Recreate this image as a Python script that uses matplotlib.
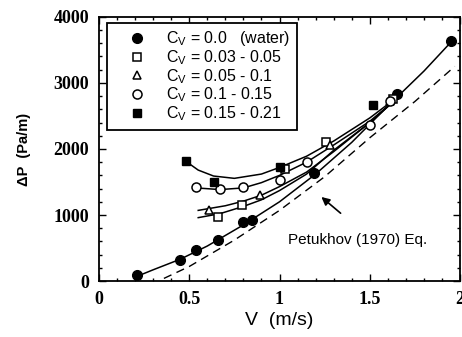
import matplotlib
matplotlib.use("Agg")
import matplotlib.pyplot as plt
from matplotlib.lines import Line2D
from matplotlib.ticker import MultipleLocator

plt.rcParams['font.family'] = ['Liberation Sans', 'DejaVu Sans']
plt.rcParams['mathtext.fontset'] = 'custom'
plt.rcParams['mathtext.rm'] = 'Liberation Sans'
plt.rcParams['mathtext.it'] = 'Liberation Sans'

# measured points (V in m/s, dP in Pa/m)
water_v = [0.21, 0.45, 0.54, 0.66, 0.80, 0.85, 1.19, 1.65, 1.95]
water_p = [90, 320, 470, 620, 900, 925, 1640, 2830, 3640]
sq_v = [0.66, 0.79, 1.03, 1.26, 1.63]
sq_p = [965, 1150, 1690, 2110, 2760]
tri_v = [0.61, 0.89, 1.28, 1.61]
tri_p = [1075, 1300, 2060, 2730]
circ_v = [0.54, 0.67, 0.80, 1.00, 1.15, 1.50, 1.61]
circ_p = [1430, 1400, 1430, 1530, 1810, 2360, 2720]
fsq_v = [0.48, 0.635, 1.00, 1.515]
fsq_p = [1820, 1505, 1730, 2670]

# fitted curves
water_fit_v = [0.21, 0.3, 0.45, 0.6, 0.8, 1.0, 1.2, 1.4, 1.6, 1.8, 1.95]
water_fit_p = [70, 170, 330, 530, 850, 1200, 1620, 2100, 2650, 3180, 3620]
petukhov_v = [0.36, 0.5, 0.75, 1.0, 1.25, 1.5, 1.75, 1.97]
petukhov_p = [40, 220, 620, 1070, 1580, 2170, 2720, 3250]
fsq_fit_v = [0.478, 0.55, 0.635, 0.75, 0.9, 1.0, 1.15, 1.3, 1.5, 1.65]
fsq_fit_p = [1820, 1680, 1590, 1555, 1620, 1720, 1890, 2120, 2470, 2780]
circ_fit_v = [0.54, 0.67, 0.8, 0.9, 1.0, 1.15, 1.3, 1.5, 1.65]
circ_fit_p = [1410, 1385, 1410, 1490, 1600, 1800, 2060, 2420, 2760]
tri_fit_v = [0.55, 0.7, 0.8, 0.9, 1.0, 1.15, 1.3, 1.5, 1.65]
tri_fit_p = [1070, 1140, 1210, 1300, 1430, 1650, 1960, 2400, 2770]
sq_fit_v = [0.55, 0.67, 0.8, 0.9, 1.0, 1.15, 1.3, 1.5, 1.65]
sq_fit_p = [960, 1020, 1130, 1230, 1370, 1620, 1980, 2400, 2760]

labels = ["C$_V$ = 0.0   (water)", "C$_V$ = 0.03 - 0.05", "C$_V$ = 0.05 - 0.1",
          "C$_V$ = 0.1 - 0.15", "C$_V$ = 0.15 - 0.21"]

fig = plt.figure(figsize=(4.62, 3.37), dpi=100)
ax = fig.add_axes([0.214, 0.166, 0.782, 0.784])

lw = 1.1
ax.plot(water_fit_v, water_fit_p, color='black', lw=lw)
ax.plot(petukhov_v, petukhov_p, color='black', lw=1.0, ls=(0, (6, 4)))
for fv, fp in [(fsq_fit_v, fsq_fit_p), (circ_fit_v, circ_fit_p),
               (tri_fit_v, tri_fit_p), (sq_fit_v, sq_fit_p)]:
    ax.plot(fv, fp, color='black', lw=lw)

ax.plot(water_v, water_p, 'o', ms=7, color='black', ls='none')
ax.plot(sq_v, sq_p, 's', ms=6, mfc='white', mec='black', mew=1.1, ls='none')
ax.plot(tri_v, tri_p, '^', ms=6, mfc='white', mec='black', mew=1.1, ls='none')
ax.plot(circ_v, circ_p, 'o', ms=6.5, mfc='white', mec='black', mew=1.1, ls='none')
ax.plot(fsq_v, fsq_p, 's', ms=5.5, color='black', ls='none')

handles = [
    Line2D([], [], marker='o', ms=7, color='black', ls='none'),
    Line2D([], [], marker='s', ms=6, mfc='white', mec='black', mew=1.1, ls='none'),
    Line2D([], [], marker='^', ms=6, mfc='white', mec='black', mew=1.1, ls='none'),
    Line2D([], [], marker='o', ms=6.5, mfc='white', mec='black', mew=1.1, ls='none'),
    Line2D([], [], marker='s', ms=5.5, color='black', ls='none'),
]
leg = ax.legend(handles, labels, loc='upper left', bbox_to_anchor=(0.022, 0.977),
                fancybox=False, edgecolor='black', framealpha=1,
                prop={'size': 11.5}, handlelength=3.0, handletextpad=0.3,
                labelspacing=0.0, borderpad=0.4, borderaxespad=0)
leg.get_frame().set_linewidth(1.3)

ax.annotate("", xy=(1.22, 1300), xytext=(1.35, 1000),
            arrowprops=dict(arrowstyle='-|>', color='black', lw=1.2,
                            mutation_scale=12))
ax.text(1.43, 620, "Petukhov (1970) Eq.", fontsize=11, ha='center', va='center')

ax.set_xlim(0, 2)
ax.set_ylim(0, 4000)
ax.xaxis.set_major_locator(MultipleLocator(0.5))
ax.xaxis.set_minor_locator(MultipleLocator(0.1))
ax.yaxis.set_major_locator(MultipleLocator(1000))
ax.yaxis.set_minor_locator(MultipleLocator(200))
ax.tick_params(which='both', direction='in', top=True, right=True, width=1)
ax.tick_params(which='major', length=5, pad=7)
ax.tick_params(which='minor', length=2.5)
ax.set_xticks([0, 0.5, 1, 1.5, 2])
ax.set_xticklabels(['0', '0.5', '1', '1.5', '2'])
for t in ax.get_xticklabels() + ax.get_yticklabels():
    t.set_fontfamily('Liberation Serif')
    t.set_fontweight('bold')
    t.set_fontsize(13)
for s in ax.spines.values():
    s.set_linewidth(1.3)

ax.set_xlabel("V  (m/s)", fontsize=14, labelpad=3)
ax.set_ylabel("ΔP  (Pa/m)", fontsize=10.5, fontweight='bold', labelpad=16)

fig.savefig("out.png", dpi=100)
